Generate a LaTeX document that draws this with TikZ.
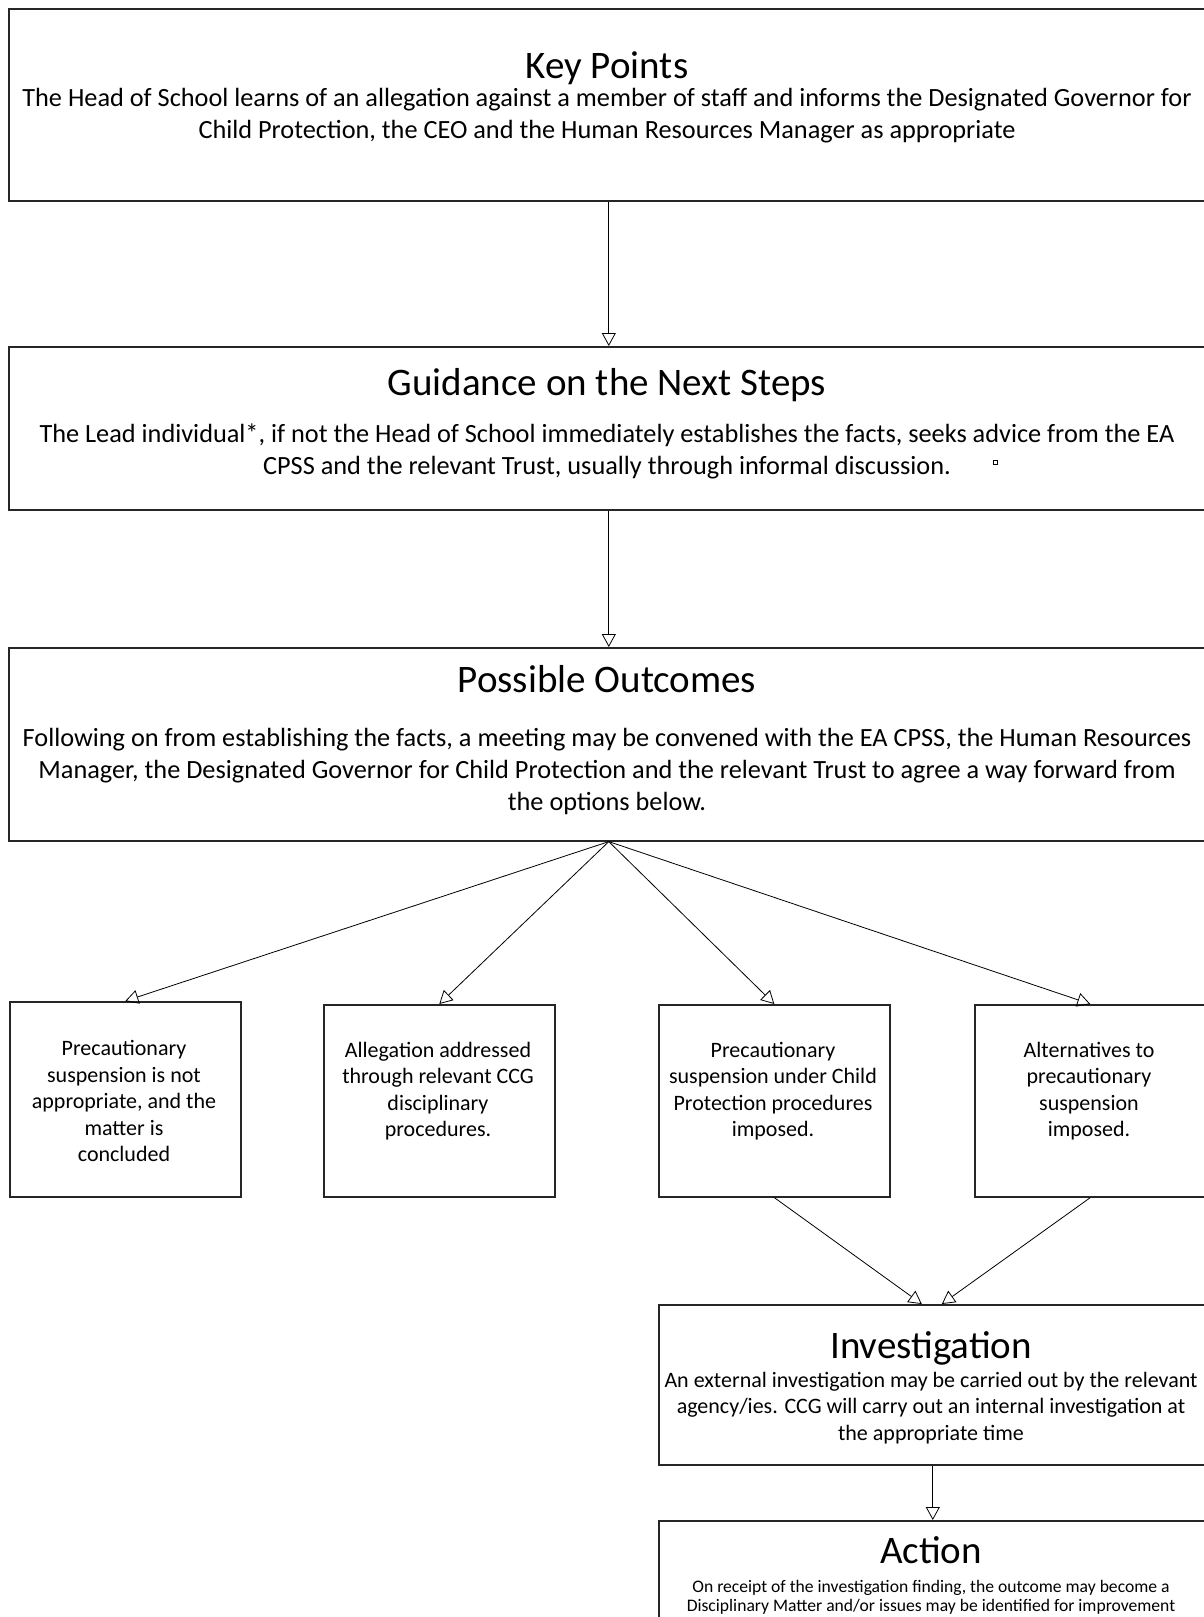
\documentclass[tikz,border=0pt]{standalone}
\usepackage{fontspec}
\setmainfont{Carlito}
\usetikzlibrary{arrows.meta, positioning}
\tikzset{
  box/.style      = {draw=black!85, line width=1.6pt, inner sep=0pt,
                     anchor=north west},
  bigbox/.style   = {box, minimum width=1200pt},
  optbox/.style   = {box, minimum width=231pt, minimum height=192pt},
  ttl/.style      = {font=\fontsize{39}{44}\selectfont, inner sep=0pt},
  txt/.style      = {font=\fontsize{26.3}{32}\selectfont, align=center,
                     inner sep=0pt},
  midtxt/.style   = {font=\fontsize{22}{26.5}\selectfont, align=center,
                     inner sep=0pt},
  smalltxt/.style = {font=\fontsize{17.6}{19}\selectfont, align=center,
                     inner sep=0pt},
  arr/.style      = {-{Triangle[open, length=13pt, width=14pt]},
                     line width=0.8pt},
}

\begin{document}
\begin{tikzpicture}[x=1pt, y=-1pt]
  \useasboundingbox (0,0) rectangle (1203,1617);

  %% Main column
  \node[bigbox, minimum height=192pt] (kp) at (8,8) {};
  \node[ttl] (kpT) at (607,68) {Key Points};
  \node[txt] (kpB) at (607,116)
        {The Head of School learns of an allegation against a member of staff and informs the Designated Governor for\\
         Child Protection, the CEO and the Human Resources Manager as appropriate};

  \node[bigbox, minimum height=163pt] (gd) at (8,346) {};
  \node[ttl] (gdT) at (607,385) {Guidance on the Next Steps};
  \node[txt] (gdB) at (607,451)
        {The Lead individual*, if not the Head of School immediately establishes the facts, seeks advice from the EA\\
         CPSS and the relevant Trust, usually through informal discussion.};
  \node[draw, line width=0.8pt, minimum size=4pt, inner sep=0pt] (mark) at (995,462) {};

  \node[bigbox, minimum height=193pt] (po) at (8,647) {};
  \node[ttl] (poT) at (607,679) {Possible Outcomes};
  \node[txt] (poB) at (607,771)
        {Following on from establishing the facts, a meeting may be convened with the EA CPSS, the Human Resources\\
         Manager, the Designated Governor for Child Protection and the relevant Trust to agree a way forward from\\
         the options below.};

  %% Options row
  \node[optbox, minimum height=195pt] (opA) at (9,1001) {};
  \node[midtxt] (opAT) at (124,1101)
        {Precautionary\\suspension is not\\appropriate, and the\\matter is\\concluded};
  \node[optbox] (opB) at (323,1004) {};
  \node[midtxt] (opBT) at (438,1091)
        {Allegation addressed\\through relevant CCG\\disciplinary\\procedures.};
  \node[optbox] (opC) at (658,1004) {};
  \node[midtxt] (opCT) at (773,1091)
        {Precautionary\\suspension under Child\\Protection procedures\\imposed.};
  \node[optbox] (opD) at (974,1004) {};
  \node[midtxt] (opDT) at (1089,1091)
        {Alternatives to\\precautionary\\suspension\\imposed.};

  %% Lower right column
  \node[box, minimum width=548pt, minimum height=160pt] (inv) at (658,1304) {};
  \node[ttl] (invT) at (931,1348) {Investigation};
  \node[midtxt] (invB) at (931,1408)
        {An external investigation may be carried out by the relevant\\
         agency/ies. CCG will carry out an internal investigation at\\
         the appropriate time};

  \node[box, minimum width=548pt, minimum height=140pt] (act) at (658,1520) {};
  \node[ttl] (actT) at (931,1550) {Action};
  \node[smalltxt] (actB) at (931,1597)
        {On receipt of the investigation finding, the outcome may become a\\
         Disciplinary Matter and/or issues may be identified for improvement};

  %% Arrows
  \draw[arr] (kp.south) -- (gd.north);
  \draw[arr] (gd.south) -- (po.north);
  \draw[arr] (po.south) -- (opA.north);
  \draw[arr] (po.south) -- (opB.north);
  \draw[arr] (po.south) -- (opC.north);
  \draw[arr] (po.south) -- (opD.north);
  \draw[arr] (opC.south) -- ([xshift=-11pt]inv.north);
  \draw[arr] (opD.south) -- ([xshift=9pt]inv.north);
  \draw[arr] (inv.south) -- (act.north);

\end{tikzpicture}
\end{document}
